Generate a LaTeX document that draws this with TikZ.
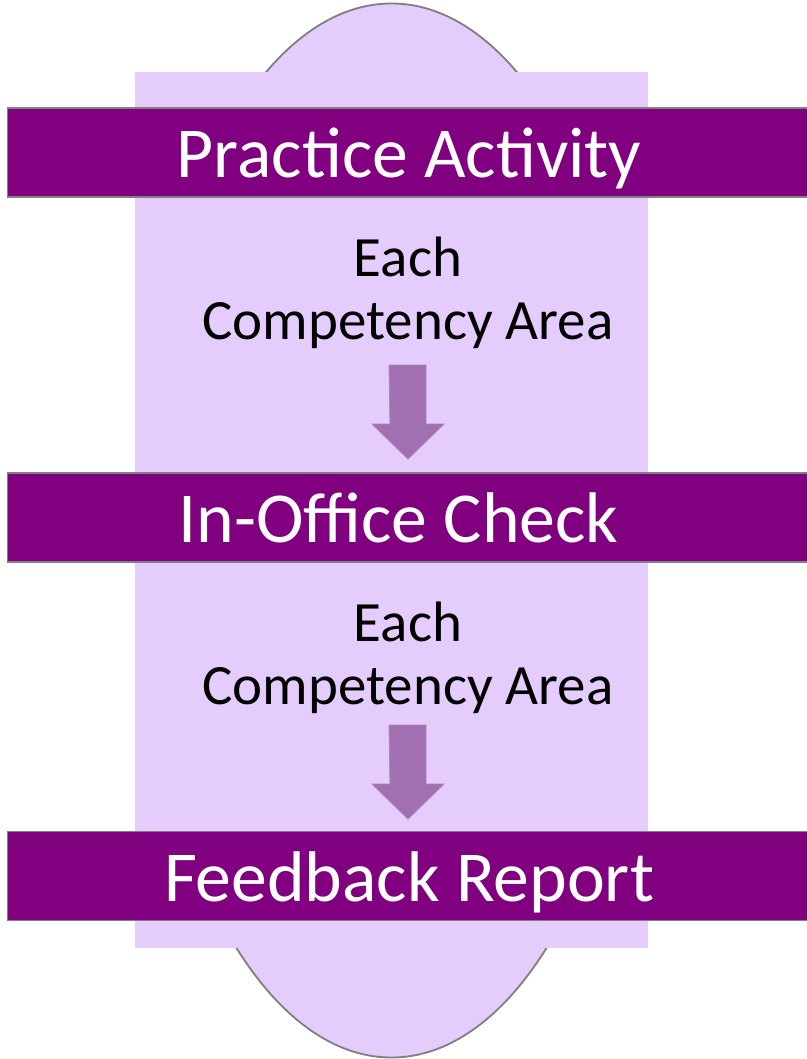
\documentclass[tikz,border=0pt]{standalone}
\usepackage{fontspec}
\setmainfont{Carlito}
\usepackage{tikz}
\usetikzlibrary{positioning, calc}
\definecolor{lavfill}{RGB}{228, 204, 252}
\definecolor{barpurple}{RGB}{128, 0, 128}
\definecolor{edgegray}{RGB}{128, 128, 128}
\definecolor{arrowmauve}{RGB}{160, 112, 176}
\definecolor{arrowedge}{RGB}{176, 128, 192}
\tikzset{
  bar/.style={rectangle, draw=edgegray, line width=1.3pt, fill=barpurple,
              text=white, minimum width=571pt, minimum height=63.3pt,
              text height=40pt, text depth=3.8pt,
              inner sep=0pt, font=\fontsize{51}{60}\selectfont},
  step lbl/.style={align=center, text=black, inner sep=0pt,
                   font=\fontsize{40.5}{44.8}\selectfont},
  blockarrow/.style={fill=arrowmauve, draw=arrowedge, line width=0.6pt},
}

\begin{document}
\begin{tikzpicture}[x=0.025cm, y=-0.025cm]
\useasboundingbox (0,0) rectangle (807,1059);

% ===================== backdrop: lavender column + ellipse ==================
\draw[edgegray, line width=1.3pt, fill=lavfill] (391.5,530.5) ellipse (254 and 527);
\fill[lavfill] (135,72) rectangle (648,948);

% ===================== stage bars ===========================================
\node[bar] (practice) at (409,152.5) {Practice Activity};
\node[bar] (office)   at (409,517.5) {\hspace{-15pt}In-Office Check};
\node[bar] (feedback) at (409,876)   {Feedback Report};

% ===================== per-area labels ======================================
\node[step lbl] (area1) at (408,293) {Each\\Competency Area};
\node[step lbl] (area2) at (408,658) {Each\\Competency Area};

% ===================== down arrows ==========================================
\foreach \n/\y in {1/365, 2/725} {
  \coordinate (top\n) at (407.5,\y);
  \draw[blockarrow] (top\n) ++(-18.5,0) -- ++(37,0) -- ++(0,59) -- ++(18,0)
    -- ++(-36,35) -- ++(-36,-35) -- ++(18,0) -- cycle;
}

\end{tikzpicture}
\end{document}
